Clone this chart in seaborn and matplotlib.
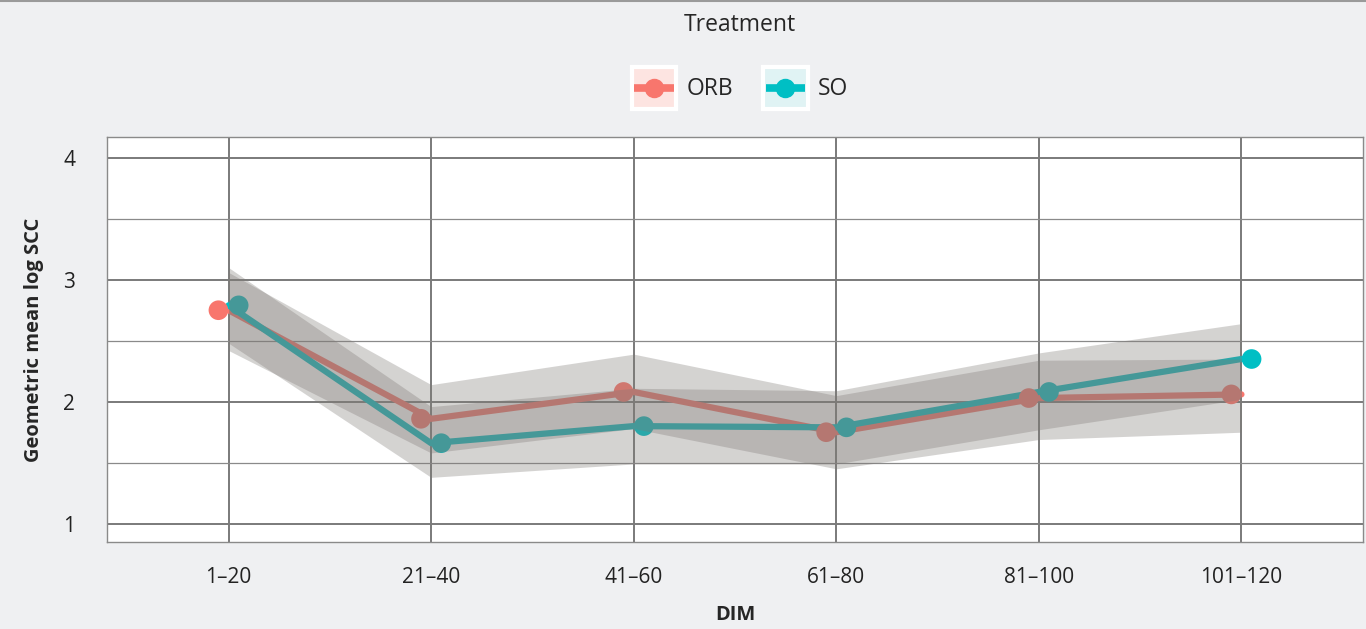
import numpy as np
import pandas as pd
import matplotlib
matplotlib.use("Agg")
import matplotlib.pyplot as plt
import seaborn as sns
from matplotlib.lines import Line2D
from matplotlib.patches import Rectangle
from matplotlib.legend_handler import HandlerBase
from matplotlib.ticker import FixedLocator

# data
dim_labels = ["1–20", "21–40", "41–60", "61–80", "81–100", "101–120"]
treatments = ["ORB", "SO"]

orb_mean = [2.75, 1.86, 2.08, 1.75, 2.03, 2.06]
so_mean = [2.79, 1.66, 1.80, 1.79, 2.08, 2.35]

orb_lower = [2.42, 1.58, 1.78, 1.45, 1.69, 1.75]
orb_upper = [3.06, 2.14, 2.39, 2.05, 2.34, 2.35]
so_lower = [2.48, 1.38, 1.49, 1.49, 1.77, 2.02]
so_upper = [3.10, 1.96, 2.11, 2.09, 2.40, 2.64]

PALETTE = {"ORB": "#F8766D", "SO": "#00BFC4"}
KEY_BG = {"ORB": "#fde4e1", "SO": "#e0f3f4"}
DODGE = {"ORB": -0.05, "SO": 0.05}


class KeyHandler(HandlerBase):
    """ ggplot-like legend key: tinted box, line and point centred in it """
    def create_artists(self, legend, orig_handle, xdescent, ydescent,
                       width, height, fontsize, trans):
        color, bg = orig_handle
        x0, y0 = -xdescent, -ydescent
        yc = y0 + height / 2
        rect = Rectangle((x0, y0), width, height, facecolor=bg, edgecolor="white",
                         lw=3, transform=trans)
        line = Line2D([x0 + 2, x0 + width - 2], [yc, yc], color=color, lw=5.5,
                      solid_capstyle="butt", transform=trans)
        dot = Line2D([x0 + width / 2], [yc], color=color, lw=0, marker="o",
                     markersize=13, transform=trans)
        return [rect, line, dot]


df = pd.DataFrame({
    "idx": list(range(len(dim_labels))) * 2,
    "Treatment": ["ORB"] * 6 + ["SO"] * 6,
    "mean": orb_mean + so_mean,
    "lower": orb_lower + so_lower,
    "upper": orb_upper + so_upper,
})
df["x_dodge"] = df["idx"] + df["Treatment"].map(DODGE)

sns.set_style("white")
plt.rcParams["font.family"] = ["Open Sans", "DejaVu Sans"]

fig = plt.figure(figsize=(13.66, 6.29), dpi=100, facecolor="#eff0f2")
ax = fig.add_axes([107 / 1366, 1 - 542 / 629, (1363 - 107) / 1366, (542 - 137) / 629])
ax.set_facecolor("white")

# lines (undodged) and points (dodged), ribbons laid over them
sns.lineplot(data=df, x="idx", y="mean", hue="Treatment", palette=PALETTE,
             lw=4.5, legend=False, ax=ax, zorder=3, estimator=None)
sns.scatterplot(data=df, x="x_dodge", y="mean", hue="Treatment", palette=PALETTE,
                s=200, edgecolor="none", legend=False, ax=ax, zorder=4)

for t in treatments:
    sub = df[df["Treatment"] == t]
    ax.fill_between(sub["idx"], sub["lower"], sub["upper"], color="#7f7a76",
                    alpha=0.33, lw=0, zorder=5)

ax.set_xlim(-0.6, 5.6)
ax.set_ylim(0.85, 4.17)
ax.set_xticks(range(len(dim_labels)))
ax.set_xticklabels(dim_labels)
ax.set_yticks([1, 2, 3, 4])
ax.yaxis.set_minor_locator(FixedLocator([1.5, 2.5, 3.5]))

ax.grid(which="major", color="#7a7a7a", lw=1.4, zorder=1)
ax.grid(which="minor", axis="y", color="#8a8a8a", lw=0.9, zorder=1)
ax.set_axisbelow(True)
for sp in ax.spines.values():
    sp.set_color("#8a8a8a")
    sp.set_linewidth(1.0)

ax.tick_params(axis="both", which="major", length=6, width=1.6, color="black",
               labelsize=15, labelcolor="#222222")
ax.tick_params(axis="x", pad=12)
ax.tick_params(axis="y", pad=17)
ax.tick_params(which="minor", length=0)

ax.set_xlabel("DIM", fontsize=14.5, fontweight="bold", labelpad=12)
ax.set_ylabel("Geometric mean log SCC", fontsize=14.5, fontweight="bold", labelpad=14)

# legend with tinted key boxes
handles = [(PALETTE[t], KEY_BG[t]) for t in treatments]
leg = fig.legend(handles, treatments, handler_map={tuple: KeyHandler()},
                 loc="upper center", bbox_to_anchor=(740 / 1366, 1.007), ncol=2,
                 frameon=False, title="Treatment", fontsize=16.5, title_fontsize=16.5,
                 handlelength=1.95, handleheight=2.4, handletextpad=0.45,
                 columnspacing=1.3, borderpad=0.25)
leg._legend_box.sep = 22

fig.add_artist(Line2D([0, 1], [0.998, 0.998], color="#9a9a9a", lw=1.5,
                      transform=fig.transFigure))

fig.savefig("out.png", dpi=100, facecolor=fig.get_facecolor())
